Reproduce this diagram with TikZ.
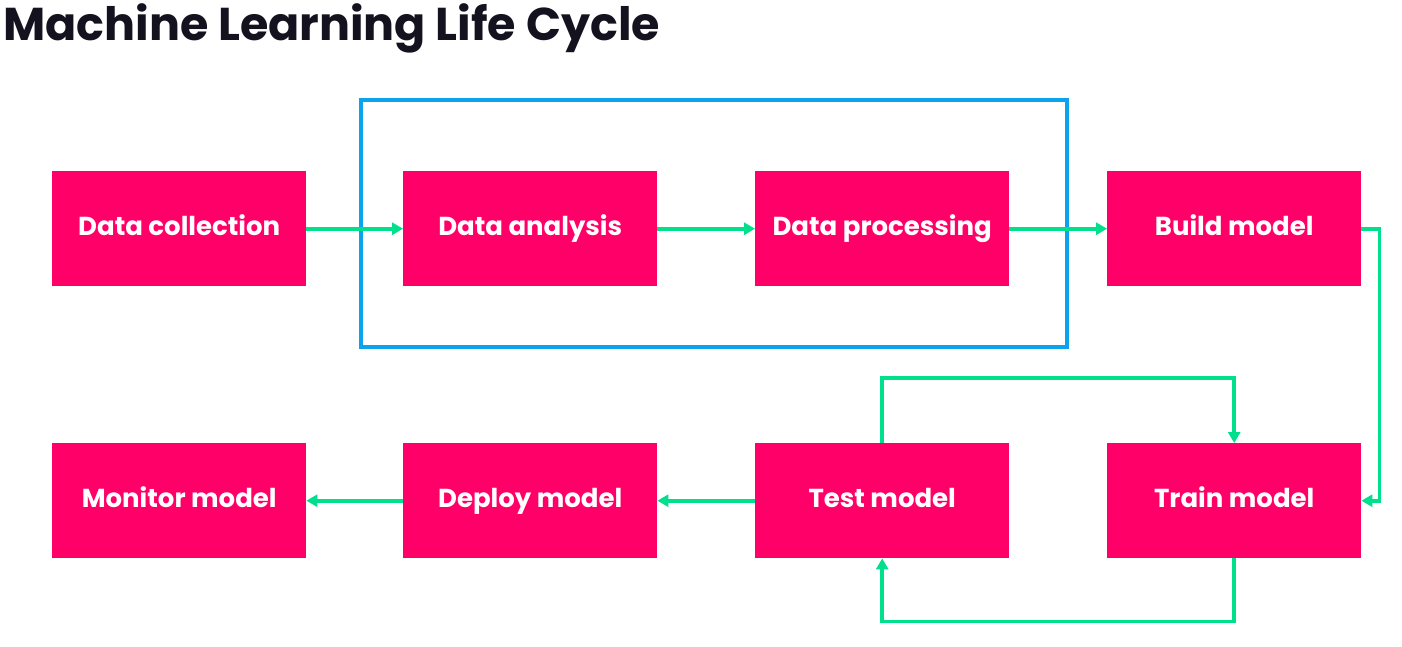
\documentclass[tikz,border=0pt]{standalone}
\usepackage{fontspec}
\setmainfont{Poppins}
\usetikzlibrary{arrows.meta}
\definecolor{pinkbox}{HTML}{FF0069}
\definecolor{flow}{HTML}{00DF8C}
\definecolor{frameblue}{HTML}{0AA3EC}
\definecolor{titlecol}{HTML}{15121F}
\tikzset{
  stagebox/.style={fill=pinkbox, draw=none, minimum width=254pt, minimum height=115pt, inner sep=0pt,
    text=white, font=\fontsize{26}{30}\selectfont\bfseries, anchor=north west,
    text height=19pt, text depth=5pt},
  flowline/.style={draw=flow, line width=3.6pt, -{Triangle[length=11pt,width=12pt]}},
  groupframe/.style={draw=frameblue, line width=3.6pt}
}
\begin{document}
\begin{tikzpicture}[x=1pt,y=-1pt]
\useasboundingbox (0,0) rectangle (1402,646);
\fill[white] (0,0) rectangle (1402,646);
\node[anchor=west, text=titlecol, font=\fontsize{46}{52}\selectfont\bfseries, inner sep=0pt] (title) at (3,28) {Machine Learning Life Cycle};
\node[groupframe, minimum width=706pt, minimum height=247pt, anchor=north west, inner sep=0pt] (group) at (359,98) {};
\node[stagebox] (dc) at (52,171) {Data collection};
\node[stagebox] (da) at (403,171) {Data analysis};
\node[stagebox] (dp) at (755,171) {Data processing};
\node[stagebox] (bm) at (1107,171) {Build model};
\node[stagebox] (mm) at (52,443) {Monitor model};
\node[stagebox] (dm) at (403,443) {Deploy model};
\node[stagebox] (tm) at (755,443) {Test model};
\node[stagebox] (tr) at (1107,443) {Train model};
\draw[flowline] (dc.east) -- (da.west);
\draw[flowline] (da.east) -- (dp.west);
\draw[flowline] (dp.east) -- (bm.west);
\draw[flowline] (bm.east) -- ++(18,0) |- (tr.east);
\draw[flowline] (tm.north) -- ++(0,-65) -| (tr.north);
\draw[flowline] (tr.south) -- ++(0,63) -| (tm.south);
\draw[flowline] (tm.west) -- (dm.east);
\draw[flowline] (dm.west) -- (mm.east);
\end{tikzpicture}
\end{document}
